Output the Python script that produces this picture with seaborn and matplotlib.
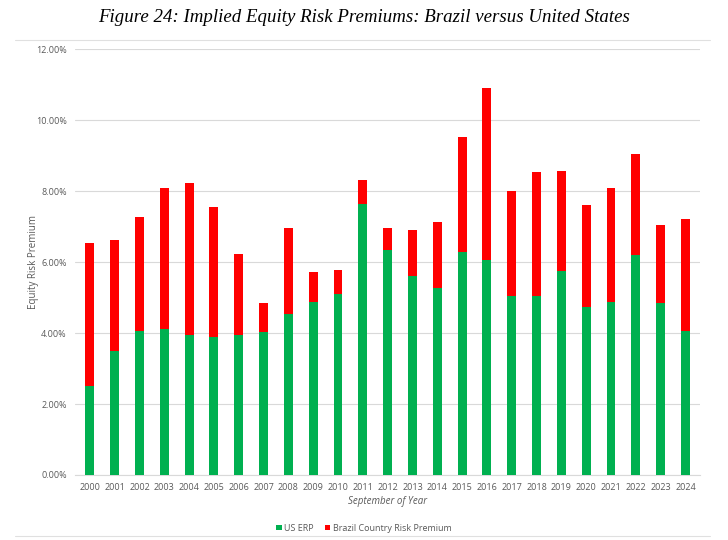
import matplotlib
matplotlib.use("Agg")
import matplotlib.pyplot as plt
import seaborn as sns
import pandas as pd
from matplotlib.lines import Line2D
from matplotlib.patches import Patch
from matplotlib.ticker import FuncFormatter

years = [str(y) for y in range(2000, 2025)]
us_erp = [2.51, 3.49, 4.06, 4.11, 3.94, 3.89, 3.94, 4.03, 4.54, 4.87, 5.10, 7.63, 6.34,
          5.61, 5.27, 6.28, 6.06, 5.04, 5.04, 5.75, 4.73, 4.87, 6.20, 4.85, 4.06]
total_erp = [6.54, 6.62, 7.27, 8.08, 8.23, 7.55, 6.23, 4.85, 6.96, 5.72, 5.77, 8.31, 6.96,
             6.90, 7.13, 9.52, 10.90, 8.00, 8.54, 8.56, 7.61, 8.08, 9.04, 7.04, 7.21]
brazil_crp = [t - u for t, u in zip(total_erp, us_erp)]

df = pd.DataFrame({"year": years, "us": us_erp, "crp": brazil_crp})
df["total"] = df["us"] + df["crp"]

sns.set_theme(style="white")
plt.rcParams["font.family"] = ["Open Sans", "DejaVu Sans"]

GREEN = "#00B050"
RED = "#FF0000"
GRAY = "#595959"

fig = plt.figure(figsize=(7.28, 5.40), dpi=100)
ax = fig.add_axes([0.103, 0.1204, 0.859, 0.7886])

sns.barplot(data=df, x="year", y="total", color=RED, width=0.36, saturation=1, ax=ax,
            linewidth=0, edgecolor="none", zorder=3)
sns.barplot(data=df, x="year", y="us", color=GREEN, width=0.36, saturation=1, ax=ax,
            linewidth=0, edgecolor="none", zorder=4)

ax.set_ylim(0, 12)
ax.set_yticks([0, 2, 4, 6, 8, 10, 12])
ax.yaxis.set_major_formatter(FuncFormatter(lambda v, p: f"{v:.2f}%"))
ax.grid(axis="y", color="#D9D9D9", linewidth=0.8, zorder=0)
ax.set_axisbelow(True)
for s in ["top", "right", "left"]:
    ax.spines[s].set_visible(False)
ax.spines["bottom"].set_color("#D9D9D9")
ax.spines["bottom"].set_linewidth(0.8)
ax.tick_params(axis="both", length=0, labelsize=6.5, colors=GRAY, pad=6)
ax.set_xlim(-0.6, 24.6)

ax.set_ylabel("Equity Risk Premium", fontsize=7, color=GRAY, labelpad=-2)
ax.set_xlabel("September of Year", fontsize=7, color=GRAY, style="italic", labelpad=3)

fig.text(0.5, 0.968, "Figure 24: Implied Equity Risk Premiums: Brazil versus United States",
         ha="center", va="center", fontsize=13.6, style="italic",
         family=["Liberation Serif", "DejaVu Serif"], color="black")

handles = [Patch(facecolor=GREEN, edgecolor="none", label="US ERP"),
           Patch(facecolor=RED, edgecolor="none", label="Brazil Country Risk Premium")]
fig.legend(handles=handles, loc="center", bbox_to_anchor=(0.5, 0.022), ncol=2, frameon=False,
           fontsize=6.5, handlelength=0.6, handleheight=0.6, handletextpad=0.3,
           columnspacing=1.2, labelcolor=GRAY)

fig.add_artist(Line2D([0.02, 0.975], [0.926, 0.926], color="#E0E0E0", linewidth=0.8))
fig.add_artist(Line2D([0.02, 0.975], [0.008, 0.008], color="#E0E0E0", linewidth=0.8))

fig.savefig("out.png", dpi=100)
